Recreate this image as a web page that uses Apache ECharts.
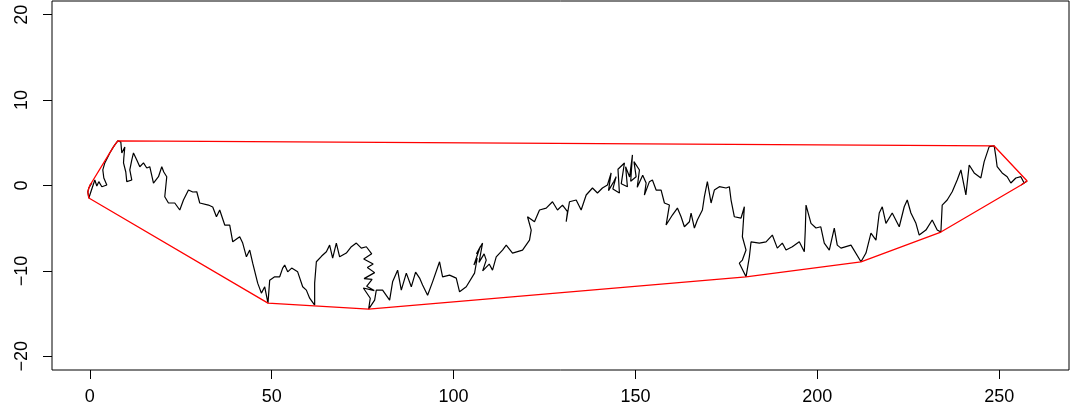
<!DOCTYPE html>
<html>
<head>
<meta charset="utf-8">
<script src="https://cdn.jsdelivr.net/npm/echarts@6/dist/echarts.min.js"></script>
<style>html,body{margin:0;padding:0;background:#fff;}#c{width:1070px;height:419px;}</style>
</head>
<body>
<div id="c"></div>
<script>
// Random-walk path (x, y)
const walkX = [0,0.55,-0.27,-0.55,-0.27,0.27,1.37,1.92,2.47,3.30,4.67,3.85,3.57,4.12,4.95,5.49,6.32,6.87,7.69,8.52,8.79,9.62,9.34,9.26,9.89,10.16,11.54,10.99,11.54,12.0,12.91,13.74,14.75,15.66,16.48,17.50,18.87,19.78,20.33,21.15,20.60,21.62,23.35,24.73,25.74,27.12,28.30,29.40,30.22,32.61,33.79,34.81,35.71,37.09,38.46,39.29,41.21,42.03,43.05,43.96,44.78,46.15,47.17,48.08,48.98,49.45,50.82,52.20,53.02,53.57,54.40,55.49,57.14,58.52,59.53,60.44,61.81,61.81,62.28,63.74,65.03,65.93,66.76,67.77,68.68,70.52,71.90,73.27,74.64,76.02,77.5,75.3,77.9,76.3,78.3,75.4,77.6,76.1,78.2,75.2,77.1,76.65,78.30,78.76,80.49,82.42,83.24,84.62,85.63,87.01,88.38,89.56,90.66,91.48,92.86,94.23,96.15,96.98,98.90,100.74,101.65,103.49,105.77,106.5,105.6,107.3,106.3,107.97,107.0,108.4,108.98,108.0,109.8,110.71,111.73,113.46,114.48,116.21,118.96,120.88,121.35,120.33,122.25,123.63,125.47,127.20,128.57,129.95,131.32,130.96,131.87,133.71,135.08,136.46,138.19,139.56,140.93,142.31,143.32,142.6,144.1,144.70,143.8,145.60,145.2,146.98,146.1,147.80,147.3,148.4,149.18,148.7,150.19,149.6,151.10,150.5,152.0,152.94,152.47,153.85,154.67,155.69,157.06,157.97,159.34,158.43,160.16,161.54,162.55,163.46,164.84,165.30,166.21,167.03,168.41,168.96,169.78,170.80,171.70,173.08,174.92,175.82,176.29,177.20,179.04,179.95,179.40,180.41,179.40,178.57,180.41,181.32,181.79,184.07,185.91,187.64,189.01,190.38,191.40,193.13,195.05,196.43,196.70,196.90,198.27,199.64,200.96,201.92,203.30,204.67,205.49,206.51,209.26,212.01,213.38,214.75,216.13,217.03,217.86,218.87,220.60,222.53,223.90,224.73,225.74,227.12,228.02,229.86,231.59,232.97,233.98,234.34,235.71,237.09,238.46,239.48,240.85,241.76,243.13,244.97,245.88,247.25,248.63,249.09,249.45,250.82,252.20,253.21,254.59,255.96,256.87,257.69,256.04];
const walkY = [0,0.29,-0.29,-0.76,-1.47,-0.76,0.64,-0.06,0.45,-0.14,0.06,0.88,1.82,2.64,3.34,3.81,4.40,4.75,5.22,5.10,3.81,4.51,3.22,2.64,1.58,0.45,0.64,1.82,2.99,3.81,2.99,2.20,2.64,2.05,2.20,0.29,1.03,2.20,1.58,1.03,-1.31,-2.05,-2.05,-2.87,-1.70,-0.53,-0.76,-0.73,-2.05,-2.29,-2.52,-3.66,-2.87,-4.63,-4.63,-6.59,-6.00,-6.74,-8.35,-7.56,-9.09,-11.43,-12.60,-11.86,-13.77,-11.08,-10.69,-10.69,-9.67,-9.32,-10.11,-9.67,-10.11,-11.86,-12.25,-13.19,-14.00,-11.43,-8.93,-8.26,-7.76,-6.98,-8.50,-6.74,-8.35,-7.91,-7.17,-6.74,-7.33,-7.17,-8.0,-8.6,-9.2,-9.6,-10.2,-10.9,-11.0,-11.8,-12.3,-12.0,-13.2,-14.48,-13.42,-12.25,-12.25,-13.42,-11.28,-9.91,-12.25,-10.26,-11.86,-10.14,-10.84,-11.66,-12.84,-11.28,-8.93,-10.69,-10.49,-10.84,-12.45,-11.86,-10.26,-8.5,-9.3,-7.2,-8.0,-6.74,-9.0,-8.0,-8.73,-10.0,-9.2,-9.91,-8.35,-7.56,-6.98,-7.91,-7.56,-6.39,-5.22,-3.66,-4.24,-2.87,-2.64,-1.90,-2.87,-2.29,-3.07,-4.24,-1.90,-1.70,-2.87,-1.11,-0.29,-0.88,-0.29,0.06,1.47,-0.6,0.5,1.03,-0.4,-0.88,1.9,2.64,0.2,-0.14,2.2,1.0,3.58,0.5,1.03,2.8,1.82,-0.2,1.2,0.29,-1.11,0.45,0.64,-0.53,-0.53,-2.05,-2.29,-4.63,-3.46,-2.64,-3.66,-4.83,-4.24,-3.22,-4.98,-4.04,-2.87,-1.31,0.45,-2.05,-0.53,-0.14,-0.29,-0.14,-1.70,-3.66,-3.81,-2.49,-6.00,-7.56,-8.73,-9.09,-10.69,-8.35,-6.59,-6.74,-6.59,-5.80,-7.33,-6.74,-7.56,-7.17,-6.59,-7.76,-5.22,-2.29,-4.43,-4.98,-4.83,-6.74,-7.56,-4.98,-6.98,-7.33,-6.98,-8.93,-7.91,-5.57,-6.39,-3.22,-2.49,-4.43,-3.22,-4.83,-2.49,-1.70,-3.22,-4.43,-5.80,-5.22,-4.04,-5.22,-5.45,-2.29,-1.70,-0.73,0.64,1.82,-1.11,2.40,1.47,0.88,2.79,4.55,4.63,3.38,2.20,1.47,1.03,0.29,0.88,1.03,0.29,0.53,0.06];
const xTicks = [0, 50, 100, 150, 200, 250];
const yTicks = [-20, -10, 0, 10, 20];

const pts = walkX.map((x, i) => [x, walkY[i]]);

// convex hull (monotone chain) of the walk points
function hull(p) {
  const s = p.slice().sort((a, b) => a[0] - b[0] || a[1] - b[1]);
  const cr = (o, a, b) => (a[0]-o[0])*(b[1]-o[1]) - (a[1]-o[1])*(b[0]-o[0]);
  const lo = [], up = [];
  for (const q of s) { while (lo.length >= 2 && cr(lo[lo.length-2], lo[lo.length-1], q) <= 0) lo.pop(); lo.push(q); }
  for (let i = s.length - 1; i >= 0; i--) { const q = s[i]; while (up.length >= 2 && cr(up[up.length-2], up[up.length-1], q) <= 0) up.pop(); up.push(q); }
  up.pop(); lo.pop();
  const h = lo.concat(up);
  h.push(h[0]);
  return h;
}
const hullPts = hull(pts);

const font = 'Liberation Sans, Arial, Helvetica, sans-serif';
const minus = v => String(v).replace('-', '\u2212');
const chart = echarts.init(document.getElementById('c'), null, {renderer: 'canvas'});
chart.setOption({
  animation: false,
  backgroundColor: '#ffffff',
  grid: {left: 52, right: 1, top: 1, bottom: 49, show: true, borderColor: '#000', borderWidth: 1, backgroundColor: 'transparent'},
  xAxis: {
    type: 'value', min: -10.4, max: 269.2,
    axisLine: {show: false, onZero: false},
    splitLine: {show: false},
    axisTick: {show: true, inside: false, length: 9, customValues: xTicks, lineStyle: {color: '#000', width: 1}},
    axisLabel: {customValues: xTicks, margin: 18, color: '#000', fontSize: 18, fontFamily: font, formatter: minus}
  },
  yAxis: {
    type: 'value', min: -21.6, max: 21.6,
    axisLine: {show: false, onZero: false},
    splitLine: {show: false},
    axisTick: {show: true, inside: false, length: 9, customValues: yTicks, lineStyle: {color: '#000', width: 1}},
    axisLabel: {customValues: yTicks, margin: 21, rotate: 90, color: '#000', fontSize: 18, fontFamily: font, align: 'center', verticalAlign: 'bottom', formatter: minus}
  },
  series: [
    {type: 'line', data: pts, showSymbol: false, symbol: 'none', smooth: false, lineStyle: {color: '#000', width: 1.2}, z: 2},
    {type: 'line', data: hullPts, showSymbol: false, symbol: 'none', smooth: false, lineStyle: {color: '#ff0000', width: 1.3}, z: 3}
  ]
});
</script>
</body>
</html>
